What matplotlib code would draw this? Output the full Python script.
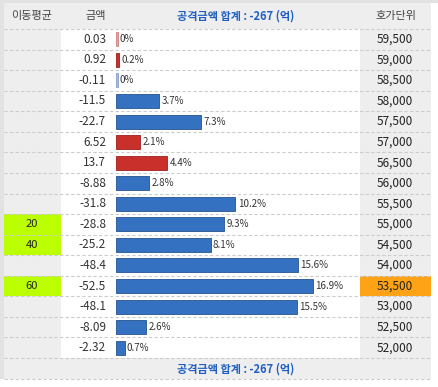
import matplotlib
matplotlib.use('Agg')
import matplotlib.pyplot as plt
from matplotlib.patches import Rectangle

plt.rcParams['font.family'] = ['Noto Sans CJK KR', 'DejaVu Sans']

# data
prices = ['59,500', '59,000', '58,500', '58,000', '57,500', '57,000', '56,500', '56,000',
          '55,500', '55,000', '54,500', '54,000', '53,500', '53,000', '52,500', '52,000']
amounts = [0.03, 0.92, -0.11, -11.5, -22.7, 6.52, 13.7, -8.88,
           -31.8, -28.8, -25.2, -48.4, -52.5, -48.1, -8.09, -2.32]
amount_labels = ['0.03', '0.92', '-0.11', '-11.5', '-22.7', '6.52', '13.7', '-8.88',
                 '-31.8', '-28.8', '-25.2', '-48.4', '-52.5', '-48.1', '-8.09', '-2.32']
pct_labels = ['0%', '0.2%', '0%', '3.7%', '7.3%', '2.1%', '4.4%', '2.8%',
              '10.2%', '9.3%', '8.1%', '15.6%', '16.9%', '15.5%', '2.6%', '0.7%']
ma_rows = {9: '20', 10: '40', 12: '60'}
current_row = 12
total = -267

W, H = 438, 387
top, bottom = 29, 358
n = len(prices)
rh = (bottom - top) / n
gray = '#eeeeee'
blue_txt = '#1f5fc4'

fig = plt.figure(figsize=(W / 100, H / 100), dpi=100)
bg = fig.add_axes([0, 0, 1, 1])
bg.set_xlim(0, W)
bg.set_ylim(H, 0)
bg.axis('off')

def box(x0, y0, x1, y1, c):
    bg.add_patch(Rectangle((x0, y0), x1 - x0, y1 - y0, facecolor=c, edgecolor='none', zorder=0))

box(0, 0, W, 3, '#e2e2e2')
box(0, 0, 4, 379, '#e2e2e2')
box(4, 3, 431, top, gray)
box(4, top, 61, bottom, gray)
box(360, top, 431, bottom, gray)
box(4, bottom, 431, 379, gray)

for i, lab in ma_rows.items():
    box(4, top + i * rh, 61, top + (i + 1) * rh, '#bbff00')
box(360, top + current_row * rh, 431, top + (current_row + 1) * rh, '#ffa316')

for i in range(n + 1):
    y = top + i * rh
    bg.plot([4, 431], [y, y], color='#cccccc', lw=0.8, ls=(0, (3, 2)), zorder=1)
bg.plot([4, 431], [379, 379], color='#cccccc', lw=0.8, ls=(0, (3, 2)), zorder=1)

# header / footer
hy = 16
bg.text(32, hy, '이동평균', ha='center', va='center', fontsize=8, color='#444444')
bg.text(96, hy, '금액', ha='center', va='center', fontsize=8, color='#444444')
bg.text(236, hy, f'공격금액 합계 : {total} (억)', ha='center', va='center', fontsize=8,
        color=blue_txt, fontweight='bold')
bg.text(396, hy, '호가단위', ha='center', va='center', fontsize=8, color='#444444')
bg.text(236, 369, f'공격금액 합계 : {total} (억)', ha='center', va='center', fontsize=8,
        color=blue_txt, fontweight='bold')

for i in range(n):
    yc = top + (i + 0.5) * rh
    bg.text(106, yc, amount_labels[i], ha='right', va='center', fontsize=8.5, color='#333333')
    bg.text(395, yc, prices[i], ha='center', va='center', fontsize=8.5, color='#222222')
    if i in ma_rows:
        bg.text(32, yc, ma_rows[i], ha='center', va='center', fontsize=8, color='#222222')

# bars
ax = fig.add_axes([116 / W, (H - bottom) / H, (360 - 116) / W, (bottom - top) / H])
ax.set_xlim(0, 65)
ax.set_ylim(n - 0.5, -0.5)
ax.axis('off')
ax.patch.set_alpha(0)
for i, v in enumerate(amounts):
    w = max(abs(v), 0.45)
    if v >= 0:
        fc, ec = '#c9302c', '#9e1f1c'
    else:
        fc, ec = '#3571c1', '#24528f'
    a = 0.45 if abs(v) < 0.5 else 1
    ax.barh(i, w, height=0.68, color=fc, edgecolor=ec, linewidth=0.6, alpha=a)
    ax.text(w + 0.6, i, pct_labels[i], ha='left', va='center', fontsize=7, color='#333333')

fig.savefig('out.png', dpi=100)
